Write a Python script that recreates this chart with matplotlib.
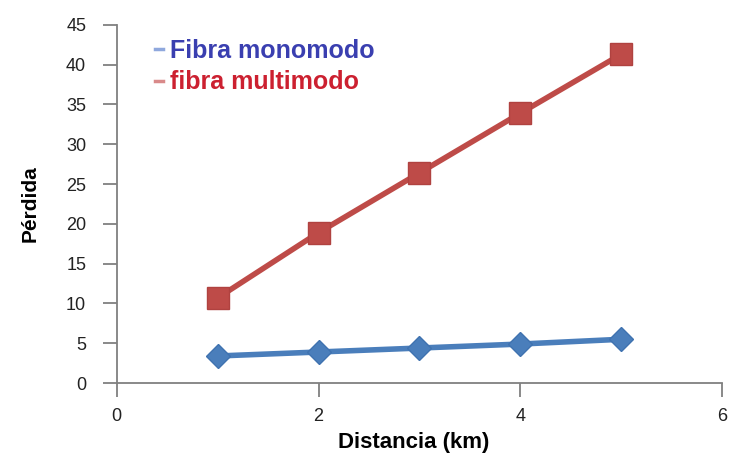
import matplotlib.pyplot as plt
from matplotlib.lines import Line2D

plt.rcParams['font.family'] = ['Liberation Sans', 'DejaVu Sans']

distancia = [1, 2, 3, 4, 5]
monomodo = [3.4, 3.9, 4.4, 4.9, 5.5]
multimodo = [10.7, 18.9, 26.4, 33.9, 41.3]
xticks = [0, 2, 4, 6]
yticks = [0, 5, 10, 15, 20, 25, 30, 35, 40, 45]

fig = plt.figure(figsize=(7.3, 4.7), dpi=100)
ax = fig.add_axes([0.160, 0.185, 0.829, 0.762])

ax.plot(distancia, monomodo, color='#4a7ebb', lw=4, marker='D', ms=12,
        markeredgecolor='#3f72b0', zorder=3)
ax.plot(distancia, multimodo, color='#be4b48', lw=4, marker='s', ms=16,
        markeredgecolor='#b04240', zorder=3)

ax.set_xlim(0, 6)
ax.set_ylim(0, 45)
ax.set_xticks(xticks)
ax.set_yticks(yticks)

for s in ['top', 'right']:
    ax.spines[s].set_visible(False)
for s in ['left', 'bottom']:
    ax.spines[s].set_color('#808080')
    ax.spines[s].set_linewidth(1.3)
ax.tick_params(direction='out', length=10, width=1.3, color='#808080',
               labelsize=13, labelcolor='#222222')
ax.tick_params(axis='y', pad=12)
ax.tick_params(axis='x', pad=8)

ax.set_xlabel('Distancia (km)', fontsize=16, fontweight='bold', va='center')
ax.set_ylabel('Pérdida', fontsize=15, fontweight='bold', va='center')
ax.xaxis.set_label_coords(0.49, -0.165)
ax.yaxis.set_label_coords(-0.144, 0.5)

handles = [Line2D([], [], color='#8fa8dd', lw=2.5),
           Line2D([], [], color='#d98a8a', lw=2.5)]
leg = ax.legend(handles, ['Fibra monomodo', 'fibra multimodo'],
                loc='upper left', bbox_to_anchor=(0.055, 0.975), frameon=False,
                borderaxespad=0, borderpad=0.2,
                handlelength=0.3, handletextpad=0.3, labelspacing=0.3,
                labelcolor=['#3a3fb0', '#cc2030'],
                prop={'size': 18, 'weight': 'bold'})

fig.savefig('out.png', dpi=100)
